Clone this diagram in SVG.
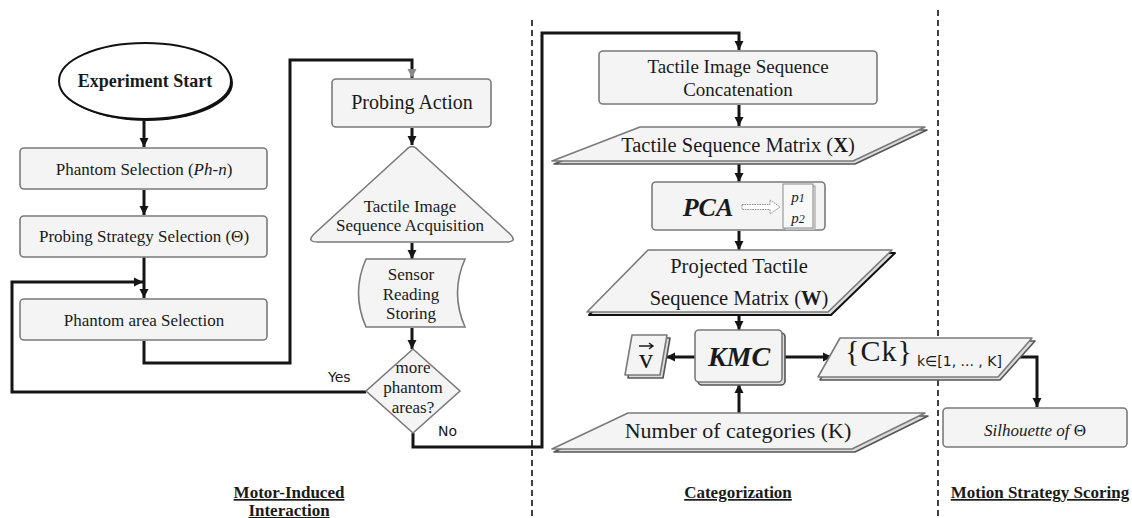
<svg xmlns="http://www.w3.org/2000/svg" width="1132" height="518" viewBox="0 0 1132 518">
<style>
.box{fill:#f4f4f4;stroke:#7a7a7a;stroke-width:1.6}
.shadow{fill:#dcdcdc;stroke:#555;stroke-width:1.6}
.t{font-family:'Liberation Serif','Times New Roman',Tinos,'DejaVu Serif',serif;fill:#1a1a1a;text-anchor:middle}
.s{font-family:'DejaVu Sans',sans-serif;fill:#1a1a1a}
.c{fill:none;stroke:#151515;stroke-width:3}
.lbl{font-family:'Liberation Serif','Times New Roman',Tinos,'DejaVu Serif',serif;font-weight:bold;font-size:17px;fill:#1a1a1a;text-anchor:middle;text-decoration:underline}
.dash{stroke:#111;stroke-width:1.6;stroke-dasharray:6 4}
</style>
<defs>
<marker id="ah" markerUnits="userSpaceOnUse" markerWidth="10" markerHeight="10" refX="9" refY="5" orient="auto">
<path d="M0,0.5 L9,5 L0,9.5 Z" fill="#151515"/>
</marker>
<marker id="ahg" markerUnits="userSpaceOnUse" markerWidth="10" markerHeight="10" refX="9" refY="5" orient="auto">
<path d="M0,0.5 L9,5 L0,9.5 Z" fill="#888"/>
</marker>
</defs>

<g id="dividers">
<line class="dash" x1="532" y1="20" x2="532" y2="518"/>
<line class="dash" x1="938" y1="10" x2="938" y2="518"/>
</g>

<g id="connectors">
<line class="c" x1="144" y1="121" x2="144" y2="147" marker-end="url(#ah)"/>
<line class="c" x1="144" y1="190" x2="144" y2="215" marker-end="url(#ah)"/>
<line class="c" x1="144" y1="257" x2="144" y2="298" marker-end="url(#ah)"/>
<path class="c" d="M366,392 H12 V282 H143" marker-end="url(#ah)"/>
<path class="c" d="M144,341 V363 H290 V60 H412 V78" marker-end="url(#ahg)"/>
<line class="c" x1="412" y1="128" x2="412" y2="145" marker-end="url(#ah)"/>
<line class="c" x1="412" y1="243" x2="412" y2="259" marker-end="url(#ah)"/>
<line class="c" x1="412" y1="328" x2="412" y2="349" marker-end="url(#ah)"/>
<path class="c" d="M413,433 V447 H542 V33 H739 V50" marker-end="url(#ah)"/>
<line class="c" x1="739" y1="105" x2="739" y2="126" marker-end="url(#ah)"/>
<line class="c" x1="739" y1="163" x2="739" y2="182" marker-end="url(#ah)"/>
<line class="c" x1="739" y1="231" x2="739" y2="250" marker-end="url(#ah)"/>
<line class="c" x1="739" y1="314" x2="739" y2="330" marker-end="url(#ah)"/>
<line class="c" x1="739" y1="413" x2="739" y2="384" marker-end="url(#ah)"/>
<line class="c" x1="695" y1="357" x2="666" y2="357" marker-end="url(#ah)"/>
<line class="c" x1="782" y1="357" x2="832" y2="357" marker-end="url(#ah)"/>
<path class="c" d="M1016,357 H1037 V407" marker-end="url(#ah)"/>
</g>

<g id="experiment-start">
<ellipse cx="147" cy="83" rx="86" ry="38" fill="#111"/>
<ellipse cx="145" cy="81" rx="86" ry="38" fill="#fff" stroke="#111" stroke-width="2"/>
<text class="t" x="145" y="87" font-size="18" font-weight="bold">Experiment Start</text>
</g>

<g id="phantom-selection">
<rect class="box" x="20" y="148" width="247" height="41" rx="4"/>
<text class="t" x="144" y="175" font-size="17">Phantom Selection (<tspan font-style="italic">Ph</tspan>-<tspan font-style="italic">n</tspan>)</text>
</g>

<g id="probing-strategy">
<rect class="box" x="20" y="216" width="247" height="41" rx="4"/>
<text class="t" x="144" y="242" font-size="17">Probing Strategy Selection (Θ)</text>
</g>

<g id="phantom-area">
<rect class="box" x="20" y="299" width="247" height="41" rx="4"/>
<text class="t" x="144" y="326" font-size="17">Phantom area Selection</text>
</g>

<g id="probing-action">
<rect class="box" x="332" y="79" width="159" height="48" rx="4"/>
<text class="t" x="412" y="109" font-size="20">Probing Action</text>
</g>

<g id="acquisition">
<path class="box" d="M406,150 Q412,143 418,150 L510,234 Q518,242 506,242 L318,242 Q306,242 314,234 Z"/>
<text class="t" x="410" y="212" font-size="17">Tactile Image</text>
<text class="t" x="410" y="231" font-size="17">Sequence Acquisition</text>
</g>

<g id="sensor-storing">
<path class="box" d="M366,259 H465 Q450,293 465,327 H366 Q351,293 366,259 Z"/>
<text class="t" x="411" y="280" font-size="17">Sensor</text>
<text class="t" x="411" y="300" font-size="17">Reading</text>
<text class="t" x="411" y="319" font-size="17">Storing</text>
</g>

<g id="decision">
<polygon class="box" points="413,349 460,391 413,433 366,391"/>
<text class="t" x="413" y="373" font-size="17">more</text>
<text class="t" x="413" y="393" font-size="17">phantom</text>
<text class="t" x="413" y="413" font-size="17">areas?</text>
<text class="s" x="328" y="382" font-size="14">Yes</text>
<text class="s" x="438" y="436" font-size="14">No</text>
</g>

<g id="concatenation">
<rect class="box" x="599" y="51" width="278" height="53" rx="4"/>
<text class="t" x="738" y="73" font-size="19">Tactile Image Sequence</text>
<text class="t" x="738" y="96" font-size="19">Concatenation</text>
</g>

<g id="matrix-x">
<polygon class="shadow" points="642,130 927,130 855,164 554,164" stroke-linejoin="round"/>
<polygon class="box" points="640,127 925,127 853,161 552,161" stroke-linejoin="round"/>
<text class="t" x="738" y="152" font-size="20.5">Tactile Sequence Matrix (<tspan font-weight="bold">X</tspan>)</text>
</g>

<g id="pca">
<rect class="box" x="652" y="182" width="173" height="48" rx="4"/>
<text class="t" x="708" y="216" font-size="26" font-weight="bold" font-style="italic">PCA</text>
<path d="M742,204.5 H770 V200 L780,207 L770,214 V209.5 H742 Z" fill="#fff" stroke="#888" stroke-width="1" stroke-dasharray="1.5 1"/>
<rect x="785" y="186" width="30" height="44" fill="#e8e8e8" stroke="#999" stroke-width="1"/>
<rect x="783" y="184" width="30" height="44" fill="#f8f8f8" stroke="#888" stroke-width="1"/>
<text class="t" x="798" y="202" font-size="15" font-style="italic">p<tspan font-size="12">1</tspan></text>
<text class="t" x="798" y="223" font-size="15" font-style="italic">p<tspan font-size="12">2</tspan></text>
</g>

<g id="matrix-w">
<polygon points="650,253 895,253 831,315 589,315" fill="#ddd" stroke="#111" stroke-width="2" stroke-linejoin="round"/>
<polygon class="box" points="648,250 892,250 828,312 587,312" stroke-linejoin="round"/>
<text class="t" x="739" y="273" font-size="20.5">Projected Tactile</text>
<text class="t" x="739" y="305" font-size="20.5">Sequence Matrix (<tspan font-weight="bold">W</tspan>)</text>
</g>

<g id="kmc">
<rect class="shadow" x="698" y="333" width="87" height="52" rx="4"/>
<rect class="box" x="695" y="330" width="87" height="52" rx="4"/>
<text class="t" x="739" y="366" font-size="28" font-weight="bold" font-style="italic">KMC</text>
</g>

<g id="vector-v">
<polygon class="shadow" points="635,338 670,338 663,378 628,378" stroke-linejoin="round"/>
<polygon class="box" points="632,335 667,335 660,375 625,375" stroke-linejoin="round"/>
<text class="t" x="646" y="368" font-size="28">v</text>
<path d="M639,346 H653 M649,343 L653,346 L649,349" fill="none" stroke="#1a1a1a" stroke-width="1.4"/>
</g>

<g id="clusters">
<polygon class="shadow" points="842,341 1035,341 1000,380 820,380" stroke-linejoin="round"/>
<polygon class="box" points="840,338 1032,338 998,377 818,377" stroke-linejoin="round"/>
<text class="t" x="845" y="361" font-size="30" letter-spacing="1" style="text-anchor:start">{Ck}</text>
<text class="s" x="917" y="366" font-size="14">k∈[1, ... , K]</text>
</g>

<g id="num-categories">
<polygon class="shadow" points="630,416 928,416 855,452 554,452" stroke-linejoin="round"/>
<polygon class="box" points="628,413 925,413 852,449 552,449" stroke-linejoin="round"/>
<text class="t" x="738" y="438" font-size="22">Number of categories (K)</text>
</g>

<g id="silhouette">
<rect class="box" x="943" y="408" width="184" height="39" rx="4"/>
<text class="t" x="1035" y="436" font-size="17"><tspan font-style="italic">Silhouette of</tspan> Θ</text>
</g>

<g id="section-labels">
<text class="lbl" x="289" y="498">Motor-Induced </text>
<text class="lbl" x="289" y="516">Interaction</text>
<text class="lbl" x="738" y="498">Categorization</text>
<text class="lbl" x="1040" y="498">Motion Strategy Scoring</text>
</g>
</svg>
